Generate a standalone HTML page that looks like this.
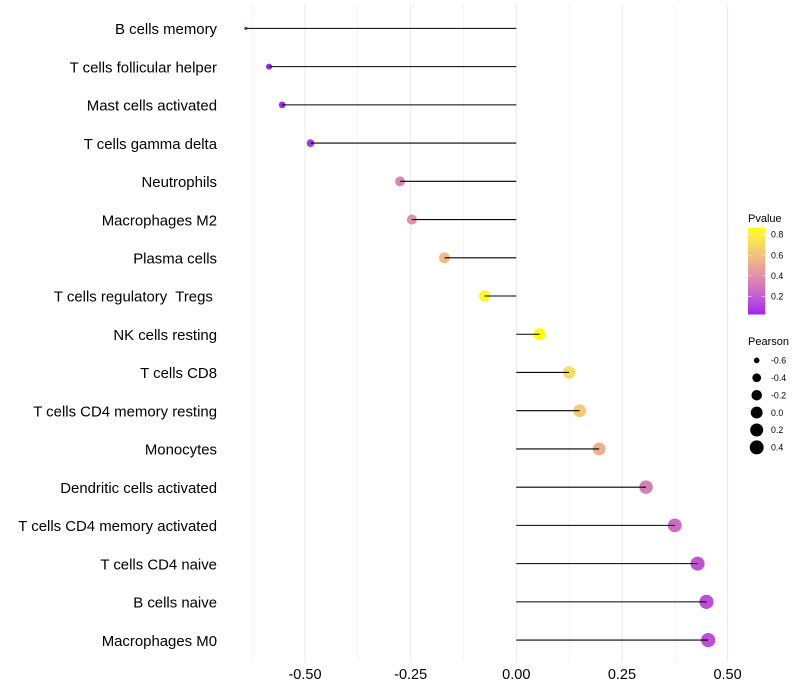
<!DOCTYPE html>
<html>
<head>
<meta charset="utf-8">
<title>Immune cell correlation lollipop chart</title>
<style>
html,body{margin:0;padding:0;background:#fff;}
#chart{display:block;width:800px;height:700px;font-family:"Liberation Sans",Arial,sans-serif;}
text{white-space:pre;}
</style>
</head>
<body>
<svg id="chart" width="800" height="700" viewBox="0 0 800 700" xmlns="http://www.w3.org/2000/svg">
  <defs>
    <linearGradient id="pvalue-gradient" x1="0" y1="1" x2="0" y2="0"></linearGradient>
  </defs>
  <g id="grid"></g>
  <g id="dots"></g>
  <g id="stems"></g>
  <g id="ylabels"></g>
  <g id="xlabels"></g>
  <g id="legend-color"></g>
  <g id="legend-size"></g>
</svg>
<script>
const categories = ["B cells memory","T cells follicular helper","Mast cells activated","T cells gamma delta","Neutrophils","Macrophages M2","Plasma cells","T cells regulatory  Tregs ","NK cells resting","T cells CD8","T cells CD4 memory resting","Monocytes","Dendritic cells activated","T cells CD4 memory activated","T cells CD4 naive","B cells naive","Macrophages M0"];
const pearson = [-0.64,-0.585,-0.554,-0.487,-0.275,-0.247,-0.17,-0.075,0.055,0.125,0.15,0.196,0.307,0.375,0.429,0.45,0.454];
const pvalues = [0.025,0.03,0.04,0.07,0.36,0.41,0.58,0.83,0.863,0.72,0.64,0.53,0.33,0.25,0.17,0.15,0.15];
const xTicks = [-0.5,-0.25,0,0.25,0.5];
const xTickLabels = ["-0.50","-0.25","0.00","0.25","0.50"];
const xMinorTicks = [-0.625,-0.375,-0.125,0.125,0.375];
const pvalueTicks = [0.2,0.4,0.6,0.8];
const pvalueTickLabels = ["0.2","0.4","0.6","0.8"];
const pearsonTicks = [-0.6,-0.4,-0.2,0,0.2,0.4];
const pearsonTickLabels = ["-0.6","-0.4","-0.2","0.0","0.2","0.4"];

const NS = "http://www.w3.org/2000/svg";
function make(tag, attrs, parent, txt) {
  const el = document.createElementNS(NS, tag);
  for (const k in attrs) el.setAttribute(k, attrs[k]);
  if (txt !== undefined) el.textContent = txt;
  parent.appendChild(el);
  return el;
}
const xScale = v => 516.3 + v * 422.6;
const yScale = i => 28.4 + i * 38.23;
const pMin = Math.min(...pvalues), pMax = Math.max(...pvalues);
const rMinV = Math.min(...pearson), rMaxV = Math.max(...pearson);
const sizeScale = v => 1.6 + 5.5 * Math.pow(Math.max(0, (v - rMinV) / (rMaxV - rMinV)), 0.45);

function srgbToLab(c) {
  const f = u => { u /= 255; return u <= 0.04045 ? u / 12.92 : Math.pow((u + 0.055) / 1.055, 2.4); };
  const r = f(c[0]), g = f(c[1]), b = f(c[2]);
  const X = (0.4124 * r + 0.3576 * g + 0.1805 * b) / 0.95047;
  const Y = 0.2126 * r + 0.7152 * g + 0.0722 * b;
  const Z = (0.0193 * r + 0.1192 * g + 0.9505 * b) / 1.08883;
  const h = t => t > 0.008856 ? Math.cbrt(t) : 7.787 * t + 16 / 116;
  return [116 * h(Y) - 16, 500 * (h(X) - h(Y)), 200 * (h(Y) - h(Z))];
}
function labToCss(l) {
  const fy = (l[0] + 16) / 116, fx = fy + l[1] / 500, fz = fy - l[2] / 200;
  const h = t => t * t * t > 0.008856 ? t * t * t : (t - 16 / 116) / 7.787;
  const X = h(fx) * 0.95047, Y = h(fy), Z = h(fz) * 1.08883;
  const g = u => {
    const v = u <= 0.0031308 ? 12.92 * u : 1.055 * Math.pow(u, 1 / 2.4) - 0.055;
    return Math.round(Math.min(1, Math.max(0, v)) * 255);
  };
  return "rgb(" + g(3.2406 * X - 1.5372 * Y - 0.4986 * Z) + "," + g(-0.9689 * X + 1.8758 * Y + 0.0415 * Z) + "," + g(0.0557 * X - 0.204 * Y + 1.057 * Z) + ")";
}
const labLow = srgbToLab([160, 32, 240]), labHigh = srgbToLab([255, 255, 0]);
const colorAt = t => labToCss(labLow.map((a, i) => a + (labHigh[i] - a) * t));
const colorScale = p => colorAt((p - pMin) / (pMax - pMin));

const grid = document.getElementById("grid");
xMinorTicks.forEach(v => {
  const el = make("line", {x1: xScale(v), x2: xScale(v), y1: 4, y2: 662, stroke: "#ebebeb", "stroke-width": 0.55}, grid);
  
  
});
xTicks.forEach(v => {
  const el = make("line", {x1: xScale(v), x2: xScale(v), y1: 4, y2: 662, stroke: "#ebebeb", "stroke-width": 1.07}, grid);
  
  
});

const dots = document.getElementById("dots");
const stems = document.getElementById("stems");
const ylabels = document.getElementById("ylabels");
categories.forEach((c, i) => {
  const dot = make("circle", {cx: xScale(pearson[i]), cy: yScale(i), r: sizeScale(pearson[i]), fill: colorScale(pvalues[i])}, dots);
  
  
  const stem = make("line", {x1: xScale(0), x2: xScale(pearson[i]), y1: yScale(i), y2: yScale(i), stroke: "#000", "stroke-width": 1.07}, stems);
  
  
  const lab = make("text", {x: 217, y: yScale(i) + 5.7, "text-anchor": "end", "font-size": 14.93, fill: "#000", "xml:space": "preserve"}, ylabels, c);
  
  
});

const xlabels = document.getElementById("xlabels");
xTicks.forEach((v, i) => {
  const t = make("text", {x: xScale(v), y: 679, "text-anchor": "middle", "font-size": 14.5, fill: "#000"}, xlabels, xTickLabels[i]);
  
  
});

const grad = document.getElementById("pvalue-gradient");
for (let s = 0; s <= 20; s++) {
  make("stop", {offset: s / 20, "stop-color": colorAt(s / 20)}, grad);
}
const barTop = 228, barBottom = 314.5, barLeft = 748, barW = 17.3;
const barY = p => barBottom - (p - pMin) / (pMax - pMin) * (barBottom - barTop);
const lc = document.getElementById("legend-color");
const pTitle = make("text", {x: 748, y: 222, "font-size": 11, fill: "#000"}, lc, "Pvalue");


const bar = make("rect", {x: barLeft, y: barTop, width: barW, height: barBottom - barTop, fill: "url(#pvalue-gradient)"}, lc);


pvalueTicks.forEach((p, i) => {
  const y = barY(p);
  const a = make("line", {x1: barLeft, x2: barLeft + 3.5, y1: y, y2: y, stroke: "#fff", "stroke-width": 0.5}, lc);
  
  
  const b = make("line", {x1: barLeft + barW - 3.5, x2: barLeft + barW, y1: y, y2: y, stroke: "#fff", "stroke-width": 0.5}, lc);
  
  
  const t = make("text", {x: 771, y: y + 3.2, "font-size": 8.8, fill: "#000"}, lc, pvalueTickLabels[i]);
  
  
});

const ls = document.getElementById("legend-size");
const sTitle = make("text", {x: 748, y: 345, "font-size": 11, fill: "#000"}, ls, "Pearson");


pearsonTicks.forEach((v, i) => {
  const y = 360.4 + i * 17.4;
  const c = make("circle", {cx: 756.7, cy: y, r: sizeScale(v), fill: "#000"}, ls);
  
  
  const t = make("text", {x: 771, y: y + 3.2, "font-size": 8.8, fill: "#000"}, ls, pearsonTickLabels[i]);
  
  
});
</script>
</body>
</html>
